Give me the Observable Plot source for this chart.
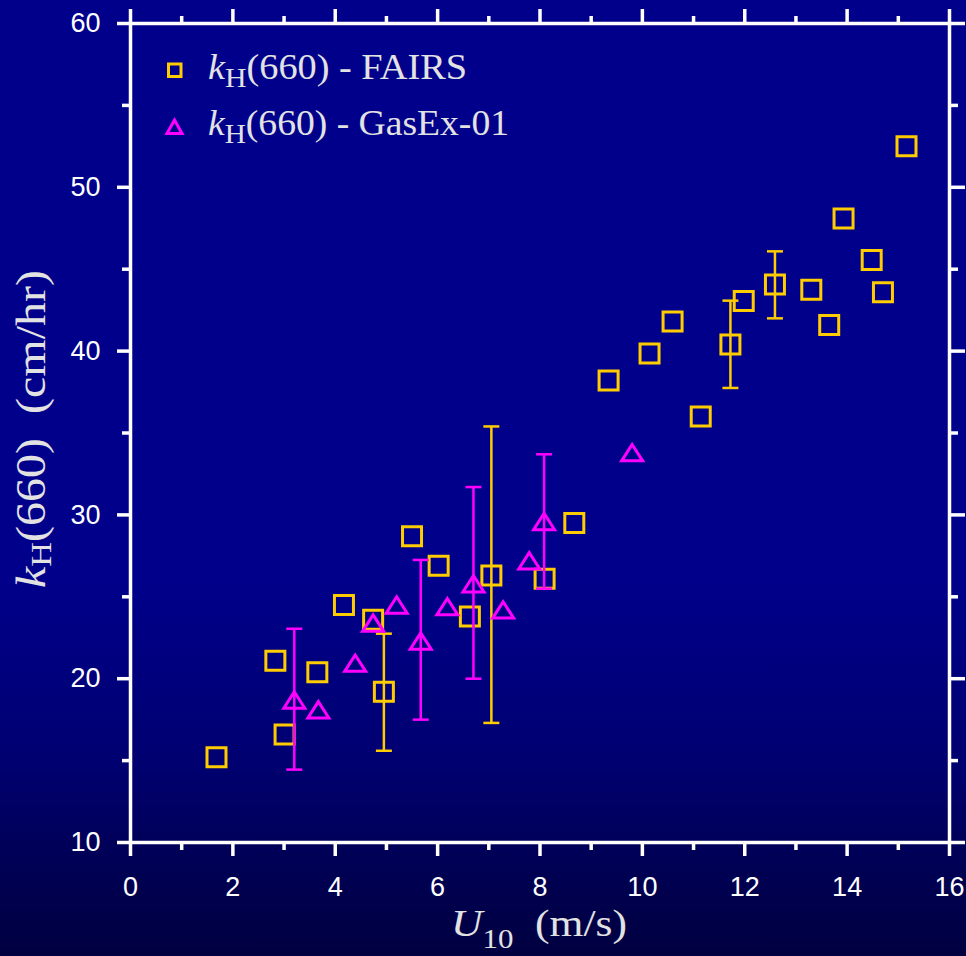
<!DOCTYPE html>
<html>
<head>
<meta charset="utf-8">
<script src="https://cdn.jsdelivr.net/npm/d3@7"></script>
<script src="https://cdn.jsdelivr.net/npm/@observablehq/plot@0.6"></script>
<style>
  html, body { margin: 0; padding: 0; background: #00008B; }
  #chart svg { display: block; }
  #chart svg g[aria-label="x-axis tick label"] text,
  #chart svg g[aria-label="y-axis tick label"] text { font-size: 27px; }
</style>
</head>
<body>
<div id="chart"></div>
<script>
// ---- Data ----
const seriesNames = ["FAIRS", "GasEx-01"];

// FAIRS: wind speed U10 (m/s) and kH(660) (cm/hr)
const fairsU = [1.68, 2.83, 3.01, 3.65, 4.17, 4.74, 4.95, 5.50, 6.02, 6.63, 7.05, 8.09, 8.67, 9.34, 10.14, 10.59, 11.14, 11.72, 11.98, 12.59, 13.30, 13.65, 13.93, 14.48, 14.70, 15.16];
const fairsK = [15.2, 21.1, 16.6, 20.4, 24.5, 23.6, 19.2, 28.7, 26.9, 23.8, 26.3, 26.1, 29.5, 38.2, 39.85, 41.8, 36.0, 40.4, 43.06, 44.06, 43.75, 41.6, 48.1, 45.56, 43.6, 52.5];
// FAIRS error bars
const fairsErrU  = [4.95, 7.05, 11.72, 12.59];
const fairsErrLo = [15.6, 17.3, 37.75, 42.0];
const fairsErrHi = [22.75, 35.4, 43.08, 46.09];

// GasEx-01
const gasU = [3.20, 3.67, 4.39, 4.74, 5.20, 5.67, 6.19, 6.70, 7.28, 7.79, 8.08, 9.80];
const gasK = [18.7, 18.1, 20.95, 23.4, 24.5, 22.3, 24.4, 25.8, 24.2, 27.2, 29.6, 33.8];
// GasEx-01 error bars
const gasErrU  = [3.20, 5.67, 6.70, 8.08];
const gasErrLo = [14.45, 17.5, 20.0, 25.5];
const gasErrHi = [23.05, 27.25, 31.7, 33.7];

// Axis ticks
const xMajor = [0, 2, 4, 6, 8, 10, 12, 14, 16];
const xMinor = [1, 3, 5, 7, 9, 11, 13, 15];
const yMajor = [10, 20, 30, 40, 50, 60];
const yMinor = [15, 25, 35, 45, 55];

// ---- Tables ----
const fairs = fairsU.map((u, i) => ({u, k: fairsK[i]}));
const gas = gasU.map((u, i) => ({u, k: gasK[i]}));
const fairsErr = fairsErrU.map((u, i) => ({u, lo: fairsErrLo[i], hi: fairsErrHi[i]}));
const gasErr = gasErrU.map((u, i) => ({u, lo: gasErrLo[i], hi: gasErrHi[i]}));

const gold = "#FFCC00", mag = "#FF00FF", labelColor = "#E2E2E2";

// custom symbols
const capSym = {draw(ctx, size) { const r = Math.sqrt(size / Math.PI); ctx.moveTo(-r, 0); ctx.lineTo(r, 0); }};
const sqSym  = {draw(ctx, size) { const r = Math.sqrt(size / Math.PI); ctx.moveTo(-r, -r); ctx.lineTo(r, -r); ctx.lineTo(r, r); ctx.lineTo(-r, r); ctx.closePath(); }};
const triSym = {draw(ctx, size) { const r = Math.sqrt(size / Math.PI); const h = r * 0.78; ctx.moveTo(0, -h); ctx.lineTo(r, h); ctx.lineTo(-r, h); ctx.closePath(); }};

const ax = {color: "white", stroke: "white", strokeWidth: 3.5, label: null};
const blank = () => "";

const plot = Plot.plot({
  width: 966,
  height: 956,
  marginLeft: 130,
  marginRight: 17,
  marginTop: 23,
  marginBottom: 114,
  style: {
    background: "linear-gradient(to bottom, #00008B 0%, #00008B 60%, #000070 80%, #00005A 88%, #000040 100%)",
    fontFamily: "'Liberation Sans', Arial, sans-serif",
    fontSize: "27px",
    color: "white"
  },
  x: {domain: [0, 16]},
  y: {domain: [10, 60]},
  marks: [
    // bottom axis
    Plot.axisX({...ax, ticks: xMajor, tickSize: 14, tickPadding: 20, fontSize: 27}),
    Plot.axisX({...ax, ticks: xMinor, tickSize: 8, tickFormat: blank}),
    // top axis
    Plot.axisX({...ax, anchor: "top", ticks: xMajor, tickSize: 15, tickFormat: blank}),
    Plot.axisX({...ax, anchor: "top", ticks: xMinor, tickSize: 8, tickFormat: blank}),
    // left axis
    Plot.axisY({...ax, ticks: yMajor, tickSize: 13, tickPadding: 17, fontSize: 27}),
    Plot.axisY({...ax, ticks: yMinor, tickSize: 8, tickFormat: blank}),
    // right axis
    Plot.axisY({...ax, anchor: "right", ticks: yMajor, tickSize: 15, tickFormat: blank}),
    Plot.axisY({...ax, anchor: "right", ticks: yMinor, tickSize: 8, tickFormat: blank}),
    Plot.frame({stroke: "white", strokeWidth: 3.5}),

    // FAIRS
    Plot.ruleX(fairsErr, {x: "u", y1: "lo", y2: "hi", stroke: gold, strokeWidth: 2.5}),
    Plot.dot(fairsErr, {x: "u", y: "lo", symbol: capSym, r: 8, stroke: gold, fill: "none", strokeWidth: 2.5}),
    Plot.dot(fairsErr, {x: "u", y: "hi", symbol: capSym, r: 8, stroke: gold, fill: "none", strokeWidth: 2.5}),
    Plot.dot(fairs, {x: "u", y: "k", symbol: sqSym, r: 9.5, stroke: gold, fill: "none", strokeWidth: 3}),

    // GasEx-01
    Plot.ruleX(gasErr, {x: "u", y1: "lo", y2: "hi", stroke: mag, strokeWidth: 2.5}),
    Plot.dot(gasErr, {x: "u", y: "lo", symbol: capSym, r: 8, stroke: mag, fill: "none", strokeWidth: 2.5}),
    Plot.dot(gasErr, {x: "u", y: "hi", symbol: capSym, r: 8, stroke: mag, fill: "none", strokeWidth: 2.5}),
    Plot.dot(gas, {x: "u", y: "k", symbol: triSym, r: 10.5, stroke: mag, fill: "none", strokeWidth: 3})
  ]
});

document.getElementById("chart").appendChild(plot);

// ---- Rich-text labels and legend ----
const svg = d3.select(plot);
const serif = "'Liberation Serif', 'Times New Roman', serif";

// x axis label
const xl = svg.append("text")
  .attr("x", 451).attr("y", 936).attr("text-anchor", "start")
  .attr("font-family", serif).attr("font-size", 38).attr("fill", labelColor)
  .attr("textLength", 176).attr("lengthAdjust", "spacingAndGlyphs");
xl.append("tspan").attr("font-style", "italic").text("U");
xl.append("tspan").attr("font-size", 27).attr("dy", 12).text("10");
xl.append("tspan").attr("dy", -12).text("\u00A0\u00A0(m/s)");

// y axis label
const yl = svg.append("text")
  .attr("transform", "translate(45,588) rotate(-90)").attr("text-anchor", "start")
  .attr("font-family", serif).attr("font-size", 42).attr("fill", labelColor)
  .attr("textLength", 318).attr("lengthAdjust", "spacingAndGlyphs");
yl.append("tspan").attr("font-style", "italic").text("k");
yl.append("tspan").attr("font-size", 30).attr("dy", 6).text("H");
yl.append("tspan").attr("dy", -6).text("(660)\u00A0\u00A0(cm/hr)");

// legend
const legend = [
  {name: seriesNames[0], color: gold, sym: "square", y: 79, len: 259},
  {name: seriesNames[1], color: mag, sym: "triangle", y: 135, len: 301}
];
legend.forEach(d => {
  const g = svg.append("g");
  if (d.sym === "square") {
    g.append("rect").attr("x", 168.5).attr("y", 64).attr("width", 12.5).attr("height", 12.5)
      .attr("fill", "none").attr("stroke", d.color).attr("stroke-width", 3);
  } else {
    g.append("path").attr("d", "M174.5,120 L182,133.5 L167,133.5 Z")
      .attr("fill", "none").attr("stroke", d.color).attr("stroke-width", 3);
  }
  const t = g.append("text").attr("x", 208).attr("y", d.y).attr("text-anchor", "start")
    .attr("font-family", serif).attr("font-size", 36).attr("fill", labelColor)
    .attr("textLength", d.len).attr("lengthAdjust", "spacingAndGlyphs");
  t.append("tspan").attr("font-style", "italic").text("k");
  t.append("tspan").attr("font-size", 28).attr("dy", 8).text("H");
  t.append("tspan").attr("dy", -8).text("(660) - " + d.name);
});
</script>
</body>
</html>
